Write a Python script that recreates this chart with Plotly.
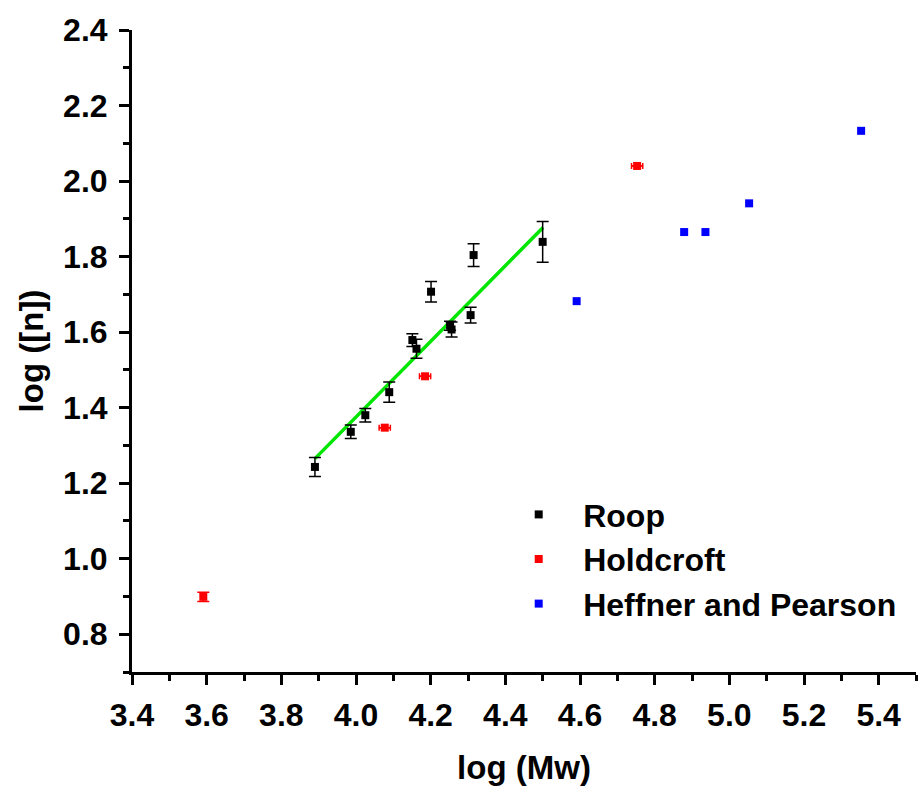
import plotly.graph_objects as go

# Roop: log(Mw), log([n]) with vertical error bars
roop_x = [3.890, 3.986, 4.025, 4.089, 4.151, 4.162, 4.201, 4.252, 4.256, 4.307, 4.315, 4.500]
roop_y = [1.243, 1.336, 1.380, 1.441, 1.579, 1.556, 1.707, 1.617, 1.607, 1.645, 1.804, 1.839]
roop_err = [0.025, 0.018, 0.018, 0.027, 0.017, 0.025, 0.027, 0.012, 0.020, 0.021, 0.030, 0.054]

# Holdcroft
hold_x = [3.591, 4.077, 4.185, 4.753]
hold_y = [0.899, 1.347, 1.483, 2.040]
hold_xerr = [0.0, 0.015, 0.015, 0.015]
hold_yerr = [0.012, 0.0, 0.0, 0.0]

# Heffner and Pearson
heff_x = [4.591, 4.879, 4.936, 5.053, 5.353]
heff_y = [1.682, 1.865, 1.865, 1.941, 2.133]

# Linear fit through the Roop data
fit_x = [3.890, 4.501]
fit_y = [1.265, 1.877]

FONT = "Liberation Sans, Arial, sans-serif"

fig = go.Figure()

fig.add_trace(go.Scatter(
    x=fit_x, y=fit_y, mode="lines",
    line=dict(color="rgb(0,230,0)", width=3.5),
    showlegend=False, hoverinfo="skip",
))

fig.add_trace(go.Scatter(
    x=roop_x, y=roop_y, mode="markers", name="Roop",
    marker=dict(symbol="square", size=8, color="black"),
    error_y=dict(type="data", array=roop_err, visible=True,
                 color="black", thickness=1.5, width=6),
))

fig.add_trace(go.Scatter(
    x=hold_x, y=hold_y, mode="markers", name="Holdcroft",
    marker=dict(symbol="square", size=8, color="red"),
    error_x=dict(type="data", array=hold_xerr, visible=True,
                 color="red", thickness=1.5, width=3),
    error_y=dict(type="data", array=hold_yerr, visible=True,
                 color="red", thickness=1.5, width=6),
))

fig.add_trace(go.Scatter(
    x=heff_x, y=heff_y, mode="markers", name="Heffner and Pearson",
    marker=dict(symbol="square", size=8, color="blue"),
))

axis_common = dict(
    showgrid=False, zeroline=False,
    showline=True, linecolor="black", linewidth=3,
    ticks="outside", ticklen=10, tickwidth=3, tickcolor="black",
    tickformat=".1f",
    tickfont=dict(family=FONT, size=32, color="black", weight="bold"),
)

fig.update_layout(
    width=923, height=791,
    margin=dict(l=132, r=7, t=30, b=119),
    paper_bgcolor="white", plot_bgcolor="white",
    xaxis=dict(
        range=[3.4, 5.5], tick0=3.4, dtick=0.2,
        minor=dict(tick0=3.4, dtick=0.1, ticks="outside", ticklen=6,
                   tickwidth=3, tickcolor="black"),
        title=dict(text="log (Mw)", standoff=24,
                   font=dict(family=FONT, size=33, color="black", weight="bold")),
        ticklabelstandoff=3,
        **axis_common,
    ),
    yaxis=dict(
        range=[0.7, 2.4], tick0=0.8, dtick=0.2,
        minor=dict(tick0=0.7, dtick=0.1, ticks="outside", ticklen=6,
                   tickwidth=3, tickcolor="black"),
        title=dict(text="log ([n])", standoff=10,
                   font=dict(family=FONT, size=33, color="black", weight="bold")),
        ticklabelstandoff=5,
        **axis_common,
    ),
    legend=dict(
        x=0.462, y=0.288, xanchor="left", yanchor="top",
        bgcolor="rgba(0,0,0,0)",
        font=dict(family=FONT, size=32, color="black", weight="bold"),
        itemwidth=79,
    ),
)

fig.write_html("out.html")
